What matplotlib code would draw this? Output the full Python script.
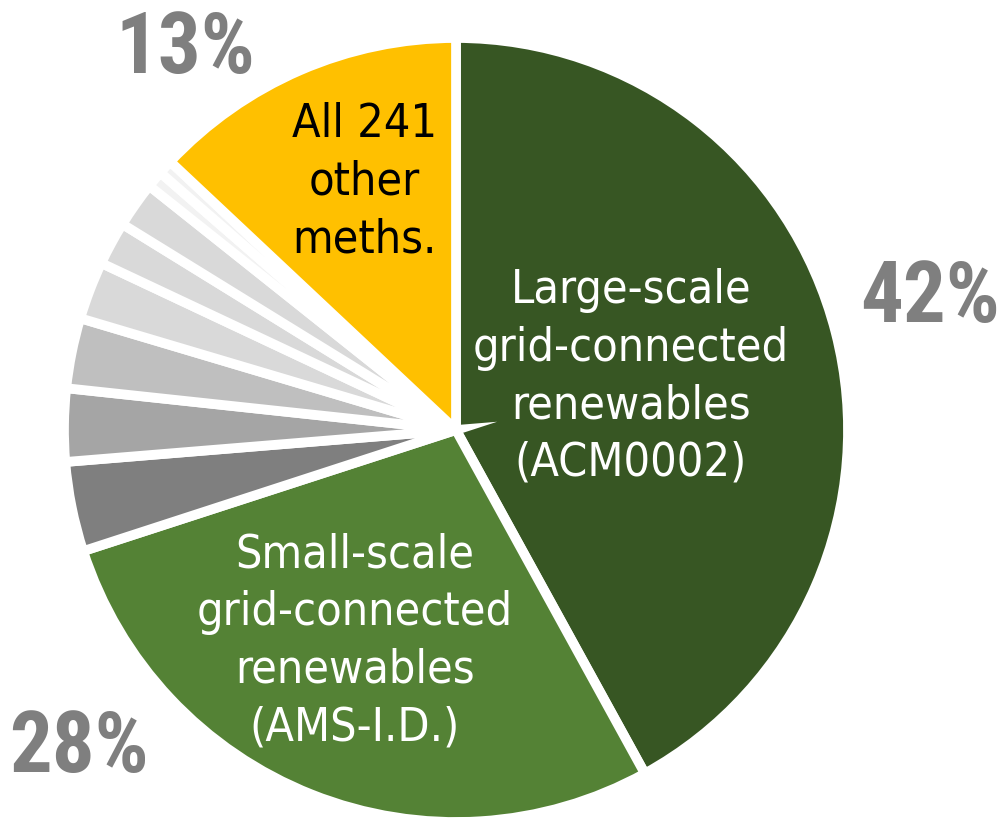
import matplotlib
matplotlib.use("Agg")
import matplotlib.pyplot as plt

# 各个方法的份额（%），从顶部开始顺时针
shares = [42, 28, 3.7, 3.0, 2.9, 2.4, 1.8, 1.9, 0.7, 0.6, 13]
colors = ['#375623', '#548235', '#7f7f7f', '#a5a5a5', '#bfbfbf',
          '#d9d9d9', '#d9d9d9', '#d9d9d9', '#f2f2f2', '#f2f2f2', '#ffc000']

pct_labels = ['42%', '28%', '13%']
inner_labels = ['Large-scale\ngrid-connected\nrenewables\n(ACM0002)',
                'Small-scale\ngrid-connected\nrenewables\n(AMS-I.D.)',
                'All 241\nother\nmeths.']

W, H = 1007, 820
fig = plt.figure(figsize=(W / 100, H / 100), dpi=100)
# 饼图中心 (456, 431) 像素，半径 392 像素
cx, cy, r = 456, 431, 392
ax = fig.add_axes([(cx - r) / W, (H - cy - r) / H, 2 * r / W, 2 * r / H])
ax.pie(shares, colors=colors, startangle=90, counterclock=False,
       wedgeprops=dict(edgecolor='white', linewidth=7))
ax.set_xlim(-1, 1)
ax.set_ylim(-1, 1)
ax.set_aspect('auto')
ax.axis('off')

# 扇区内的文字
inner_font = dict(family='DejaVu Sans', fontstretch='condensed', fontsize=33.5,
                  ha='center', va='center', linespacing=1.36)
ax.text(0.446, 0.138, inner_labels[0], color='white', **inner_font)
ax.text(-0.258, -0.536, inner_labels[1], color='white', **inner_font)
ax.text(-0.233, 0.635, inner_labels[2], color='black', **inner_font)

# 百分比
pct_font = dict(family='Roboto Condensed', fontweight='bold', fontsize=61,
                color='#7f7f7f', ha='center', va='baseline')
ax.text(1.209, 0.278, pct_labels[0], **pct_font)
ax.text(-0.962, -0.870, pct_labels[1], **pct_font)
ax.text(-0.691, 0.913, pct_labels[2], **pct_font)

fig.savefig('out.png', dpi=100, facecolor='white')
